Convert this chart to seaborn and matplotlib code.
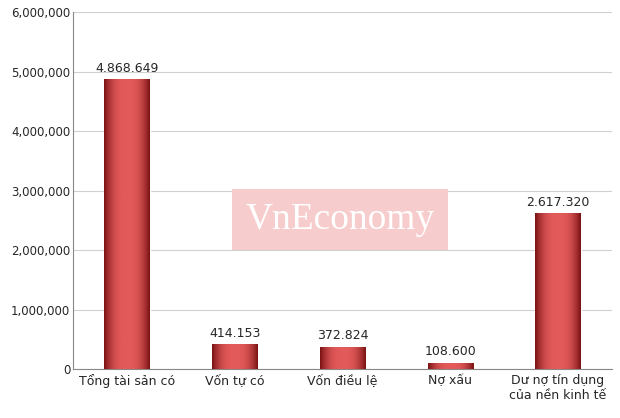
import numpy as np
import pandas as pd
import matplotlib
matplotlib.use("Agg")
import matplotlib.pyplot as plt
import seaborn as sns

categories = ["Tổng tài sản có", "Vốn tự có", "Vốn điều lệ", "Nợ xấu", "Dư nợ tín dụng\ncủa nền kinh tế"]
values = [4868649, 414153, 372824, 108600, 2617320]
labels = ["4.868.649", "414.153", "372.824", "108.600", "2.617.320"]

sns.set_style("white")
plt.rcParams['font.family'] = ['DejaVu Sans']

df = pd.DataFrame({"cat": categories, "val": values})
fig = plt.figure(figsize=(6.2, 4.18), dpi=100)
ax = fig.add_axes([0.118, 0.117, 0.869, 0.854])
sns.barplot(data=df, x="cat", y="val", color="#c0282c", width=0.42, ax=ax, saturation=1)

# cylinder-like shading
grad = np.linspace(0, 1, 100)
shade = 1 - 0.55 * (1 - np.sin(grad * np.pi)) ** 1.5
cmap = matplotlib.colors.LinearSegmentedColormap.from_list("r", ["#7a1214", "#e35a5a"])
for i, p in enumerate(ax.patches):
    x0, y0 = p.get_x(), p.get_y()
    w, h = p.get_width(), p.get_height()
    im = ax.imshow(np.tile(shade, (2, 1)), extent=[x0, x0 + w, y0, y0 + h], aspect="auto",
                   cmap=cmap, vmin=0.45, vmax=1, zorder=3)
    im.set_clip_path(p)
    ax.text(x0 + w / 2, h + 80000, labels[i], ha="center", va="bottom", fontsize=9)

ax.set_xlim(-0.5, 4.5)
ax.set_ylim(0, 6000000)
ax.set_yticks(range(0, 6000001, 1000000))
ax.set_yticklabels([f"{v:,}" for v in range(0, 6000001, 1000000)], fontsize=8.5)
ax.tick_params(axis="y", pad=2, length=0)
ax.tick_params(axis="x", labelsize=9, length=0)
ax.set_xlabel("")
ax.set_ylabel("")
ax.grid(True, axis="y", color="#d0d0d0", lw=0.8)
ax.set_axisbelow(True)
for s in ["top", "right"]:
    ax.spines[s].set_visible(False)
for s in ["left", "bottom"]:
    ax.spines[s].set_color("#888888")

fig.text(0.548, 0.475, "VnEconomy", ha="center", va="center", fontsize=27, color="white",
         family="Liberation Serif",
         bbox=dict(boxstyle="square,pad=0.35", fc="#f7cccc", ec="none"))

fig.savefig("out.png", dpi=100)
